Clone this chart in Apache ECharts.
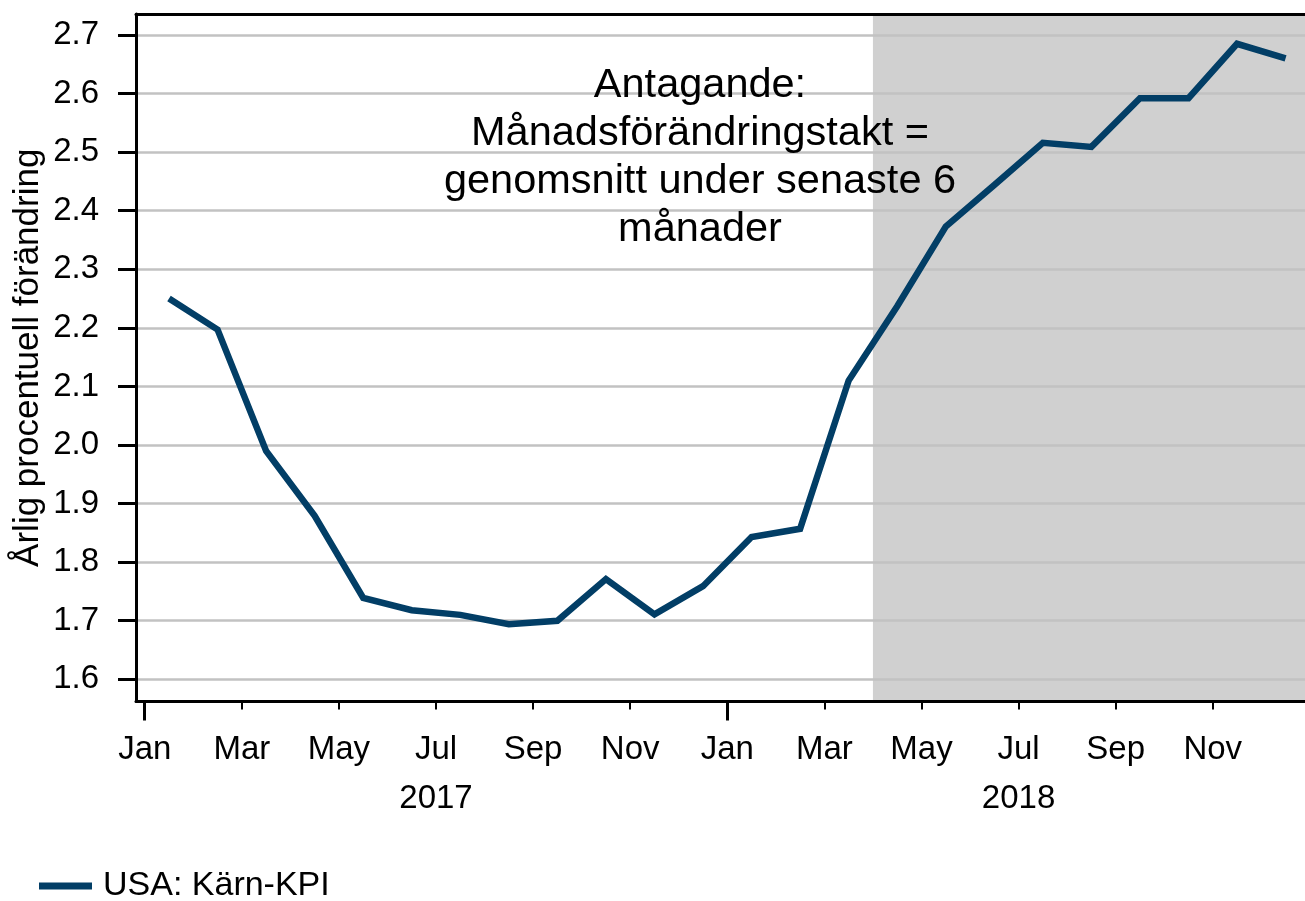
<!DOCTYPE html>
<html>
<head>
<meta charset="utf-8">
<script src="https://cdn.jsdelivr.net/npm/echarts@6/dist/echarts.min.js"></script>
<style>
  html, body { margin: 0; padding: 0; background: #ffffff; }
  #chart { width: 1305px; height: 901px; }
</style>
</head>
<body>
<div id="chart"></div>
<script>
// ---- Data ----
const months = ['2017-01','2017-02','2017-03','2017-04','2017-05','2017-06','2017-07','2017-08','2017-09','2017-10','2017-11','2017-12',
                '2018-01','2018-02','2018-03','2018-04','2018-05','2018-06','2018-07','2018-08','2018-09','2018-10','2018-11','2018-12'];
const coreCpi = [2.250, 2.197, 1.990, 1.879, 1.739, 1.718, 1.710, 1.694, 1.700, 1.771, 1.711, 1.759,
                 1.843, 1.857, 2.110, 2.237, 2.373, 2.444, 2.516, 2.509, 2.592, 2.592, 2.685, 2.660];
const seriesName = 'USA: Kärn-KPI';
const xTickLabels = ['Jan','Mar','May','Jul','Sep','Nov','Jan','Mar','May','Jul','Sep','Nov'];
const yearLabels = ['2017','2018'];
const yTicks = [1.6, 1.7, 1.8, 1.9, 2.0, 2.1, 2.2, 2.3, 2.4, 2.5, 2.6, 2.7];
const forecastStart = '2018-04';
const yAxisName = 'Årlig procentuell förändring';
const annotationLines = ['Antagande:', 'Månadsförändringstakt =', 'genomsnitt under senaste 6', 'månader'];

// ---- Derived (month index on an even monthly scale, points mid-month) ----
const seriesData = coreCpi.map((v, i) => [i + 0.5, v]);
const labelTicks = xTickLabels.map((_, i) => i * 2);
const majorTicks = yearLabels.map((_, i) => i * 12);
const minorTicks = labelTicks.filter(v => majorTicks.indexOf(v) < 0);
const yearCenters = yearLabels.map((_, i) => i * 12 + 6);
const shadeStart = months.indexOf(forecastStart);

const FONT = "'Liberation Sans', Arial, Helvetica, sans-serif";
const X_MIN = -0.18, X_MAX = 23.9;
const Y_MIN = 1.5621, Y_MAX = 2.7359;

const baseX = { type: 'value', min: X_MIN, max: X_MAX, splitLine: { show: false } };

const chart = echarts.init(document.getElementById('chart'), null, { renderer: 'canvas' });
chart.setOption({
  animation: false,
  backgroundColor: '#ffffff',
  textStyle: { fontFamily: FONT },
  grid: { left: 136, right: 0, top: 14, bottom: 199.5, containLabel: false },
  xAxis: [
    Object.assign({}, baseX, {
      position: 'bottom',
      axisLine: { show: true, onZero: false, lineStyle: { color: '#000', width: 3 } },
      axisTick: { show: true, customValues: minorTicks, length: 8, lineStyle: { color: '#000', width: 2 } },
      axisLabel: {
        show: true, customValues: labelTicks, margin: 32,
        color: '#000', fontSize: 33, fontFamily: FONT,
        formatter: v => xTickLabels[Math.round(v / 2)]
      }
    }),
    Object.assign({}, baseX, {
      position: 'bottom', offset: 0,
      axisLine: { show: false },
      axisTick: { show: true, customValues: majorTicks, length: 19, lineStyle: { color: '#000', width: 3 } },
      axisLabel: { show: false }
    }),
    Object.assign({}, baseX, {
      position: 'bottom', offset: 49,
      axisLine: { show: false },
      axisTick: { show: false },
      axisLabel: {
        show: true, customValues: yearCenters, margin: 32,
        color: '#000', fontSize: 33, fontFamily: FONT,
        formatter: v => yearLabels[Math.round((v - 6) / 12)]
      }
    }),
    Object.assign({}, baseX, {
      position: 'top',
      axisLine: { show: true, onZero: false, lineStyle: { color: '#000', width: 3 } },
      axisTick: { show: false },
      axisLabel: { show: false }
    })
  ],
  yAxis: {
    type: 'value', min: Y_MIN, max: Y_MAX, position: 'left',
    name: yAxisName, nameLocation: 'middle', nameGap: 90, nameRotate: 90,
    nameMoveOverlap: false,
    nameTextStyle: { color: '#000', fontSize: 35, fontFamily: FONT },
    axisLine: { show: true, onZero: false, lineStyle: { color: '#000', width: 3 } },
    axisTick: { show: true, customValues: yTicks, length: 18, lineStyle: { color: '#000', width: 3 } },
    axisLabel: {
      show: true, customValues: yTicks, margin: 37,
      color: '#000', fontSize: 33, fontFamily: FONT,
      formatter: v => v.toFixed(1)
    },
    splitLine: { show: true, lineStyle: { color: '#c2c2c2', width: 2.5 } }
  },
  legend: {
    show: true, data: [seriesName], left: 39, top: 869, orient: 'horizontal', padding: 0,
    icon: 'rect', itemWidth: 53, itemHeight: 7,
    textStyle: { color: '#000', fontSize: 34, fontFamily: FONT, padding: [0, 0, 0, 6] }
  },
  series: [{
    name: seriesName, type: 'line', data: seriesData, xAxisIndex: 0, yAxisIndex: 0,
    showSymbol: false, symbol: 'none', z: 3,
    color: '#023e66',
    lineStyle: { color: '#023e66', width: 6.5, join: 'miter' },
    markArea: {
      silent: true, z: -1,
      itemStyle: { color: '#d0d0d0' },
      data: [[{ xAxis: shadeStart }, { xAxis: X_MAX }]]
    }
  }],
  graphic: [{
    type: 'text', x: 700, y: 62, z: 10,
    style: {
      text: annotationLines.join('\n'),
      font: '41.5px ' + FONT,
      fill: '#000', align: 'center', verticalAlign: 'top', lineHeight: 48
    }
  }]
});
</script>
</body>
</html>
